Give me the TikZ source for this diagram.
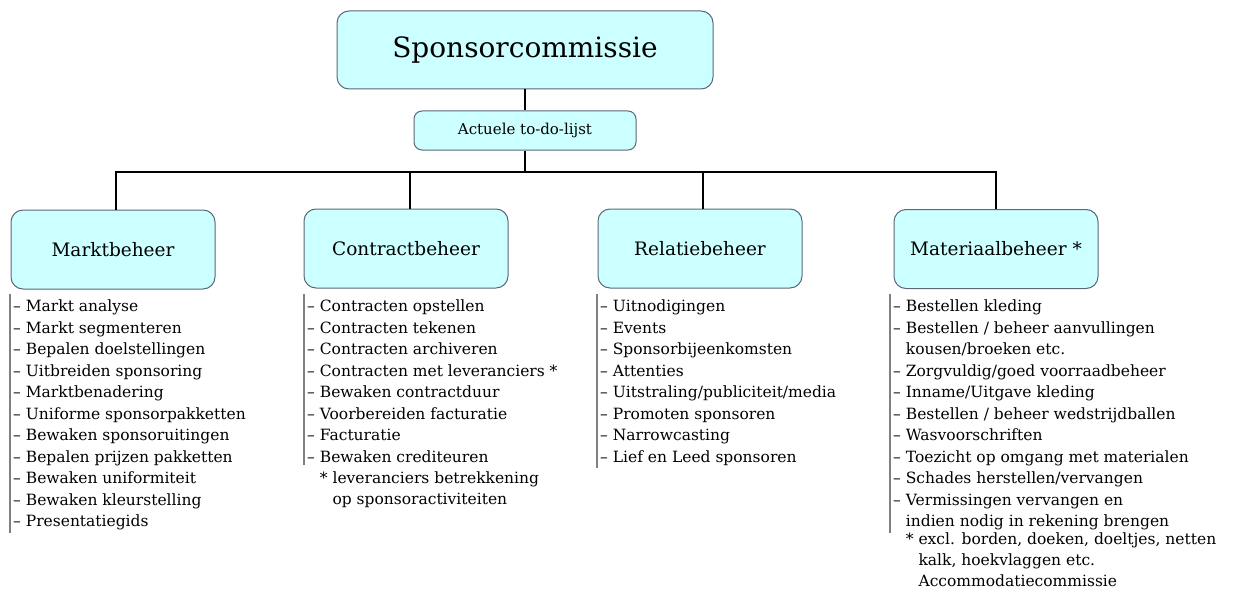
\documentclass[tikz,border=0pt]{standalone}
\usepackage{fontspec}
\setmainfont{DejaVu Serif}
\definecolor{boxfill}{HTML}{CCFFFF}
\definecolor{boxdraw}{HTML}{5A6878}
\definecolor{listline}{HTML}{808080}
\tikzset{
  box/.style={draw=boxdraw, fill=boxfill, line width=1pt, rounded corners=12pt, align=center, inner sep=0pt},
  sub/.style={box, minimum width=204pt, minimum height=79pt, font=\fontsize{18.5}{22}\selectfont},
  conn/.style={draw=black, line width=2pt},
  listtext/.style={anchor=north west, align=left, inner sep=0pt, font=\fontsize{15.5}{21.5}\selectfont},
  listbar/.style={draw=listline, line width=1.3pt}
}
\begin{document}
\begin{tikzpicture}[x=1pt,y=-1pt]
\useasboundingbox (0,0) rectangle (1233,591);
\node[box, minimum width=376pt, minimum height=78pt, font=\fontsize{28}{32}\selectfont] (top) at (525,50) {Sponsorcommissie};
\node[box, minimum width=222pt, minimum height=39pt, rounded corners=8pt, font=\fontsize{15}{17}\selectfont] (todo) at (525,130.5) {Actuele to-do-lijst};
\node[sub] (markt) at (113,249.5) {Marktbeheer};
\node[sub] (contract) at (406,248.5) {Contractbeheer};
\node[sub] (relatie) at (700,248.5) {Relatiebeheer};
\node[sub] (mat) at (996,249) {Materiaalbeheer *};
\coordinate (bar) at (525,172);
\draw[conn] (top.south) -- (todo.north);
\draw[conn] (todo.south) -- (bar);
\draw[conn] ([xshift=3pt]markt.north) |- (bar) -| (mat.north);
\draw[conn] ([xshift=4pt]contract.north) -- ([xshift=4pt]contract.north |- bar);
\draw[conn] ([xshift=3pt]relatie.north) -- ([xshift=3pt]relatie.north |- bar);

\node[listtext] (mlist) at (13,300) {– Markt analyse\\– Markt segmenteren\\– Bepalen doelstellingen\\– Uitbreiden sponsoring\\– Marktbenadering\\– Uniforme sponsorpakketten\\– Bewaken sponsoruitingen\\– Bepalen prijzen pakketten\\– Bewaken uniformiteit\\– Bewaken kleurstelling\\– Presentatiegids};
\node[listtext] (clist) at (307,300) {– Contracten opstellen\\– Contracten tekenen\\– Contracten archiveren\\– Contracten met leveranciers *\\– Bewaken contractduur\\– Voorbereiden facturatie\\– Facturatie\\– Bewaken crediteuren};
\node[listtext] (cnote) at (307,471.5) {\hphantom{– }* leveranciers betrekkening\\\hphantom{– * }op sponsoractiviteiten};
\node[listtext] (rlist) at (600,300) {– Uitnodigingen\\– Events\\– Sponsorbijeenkomsten\\– Attenties\\– Uitstraling/publiciteit/media\\– Promoten sponsoren\\– Narrowcasting\\– Lief en Leed sponsoren};
\node[listtext] (matlist) at (893,300) {– Bestellen kleding\\– Bestellen / beheer aanvullingen\\\hphantom{– }kousen/broeken etc.\\– Zorgvuldig/goed voorraadbeheer\\– Inname/Uitgave kleding\\– Bestellen / beheer wedstrijdballen\\– Wasvoorschriften\\– Toezicht op omgang met materialen\\– Schades herstellen/vervangen\\– Vermissingen vervangen en\\\hphantom{– }indien nodig in rekening brengen};
\node[listtext, font=\fontsize{15.5}{21}\selectfont] (matnote) at (893,533) {\hphantom{– }* excl. borden, doeken, doeltjes, netten\\\hphantom{– * }kalk, hoekvlaggen etc.\\\hphantom{– * }Accommodatiecommissie};

\draw[listbar] ([xshift=-3pt,yshift=6pt]mlist.north west) -- ([xshift=-3pt,yshift=-2pt]mlist.south west);
\draw[listbar] ([xshift=-3pt,yshift=6pt]clist.north west) -- ([xshift=-3pt,yshift=-2pt]clist.south west);
\draw[listbar] ([xshift=-3pt,yshift=6pt]rlist.north west) -- ([xshift=-3pt,yshift=-2pt]rlist.south west);
\draw[listbar] ([xshift=-3pt,yshift=6pt]matlist.north west) -- ([xshift=-3pt,yshift=-2pt]matlist.south west);
\end{tikzpicture}
\end{document}
